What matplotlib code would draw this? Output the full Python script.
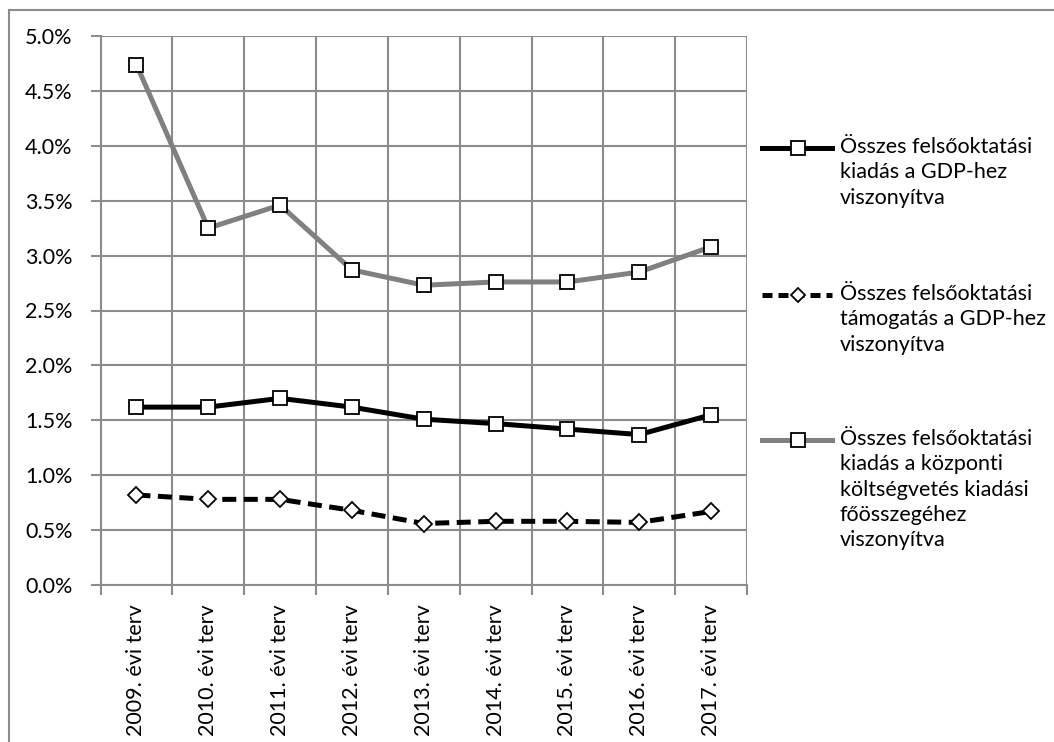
import matplotlib
matplotlib.use("Agg")
import matplotlib.pyplot as plt
from matplotlib.lines import Line2D
from matplotlib.ticker import FuncFormatter, MultipleLocator

plt.rcParams['font.family'] = ['Lato', 'DejaVu Sans']

categories = ["2009. évi terv", "2010. évi terv", "2011. évi terv", "2012. évi terv",
              "2013. évi terv", "2014. évi terv", "2015. évi terv", "2016. évi terv",
              "2017. évi terv"]
kiadas_gdp = [1.62, 1.62, 1.70, 1.62, 1.51, 1.47, 1.42, 1.37, 1.55]
tamogatas_gdp = [0.82, 0.78, 0.78, 0.68, 0.56, 0.58, 0.58, 0.57, 0.67]
kiadas_kozponti = [4.74, 3.25, 3.46, 2.87, 2.73, 2.76, 2.76, 2.85, 3.08]
labels = [
    "Összes felsőoktatási\nkiadás a GDP-hez\nviszonyítva",
    "Összes felsőoktatási\ntámogatás a GDP-hez\nviszonyítva",
    "Összes felsőoktatási\nkiadás a központi\nköltségvetés kiadási\nfőösszegéhez\nviszonyítva",
]

W, H = 1054, 742
fig = plt.figure(figsize=(W / 100, H / 100), dpi=100)
ax = fig.add_axes([100.5 / W, 1 - 585 / H, (747 - 100.5) / W, (585 - 36) / H])

grid_c = "#8c8c8c"
FS = 15.5
x = list(range(len(categories)))

styles = [
    dict(data=kiadas_gdp, color="black", ls="-", marker="s", ms=10, dashes=None),
    dict(data=tamogatas_gdp, color="black", ls="--", marker="D", ms=8.5, dashes=(2.8, 1.5)),
    dict(data=kiadas_kozponti, color="#808080", ls="-", marker="s", ms=10, dashes=None),
]
draw_order = [2, 0, 1]
for i in draw_order:
    s = styles[i]
    kw = {}
    if s["dashes"]:
        kw["dashes"] = s["dashes"]
    ax.plot(x, s["data"], color=s["color"], ls=s["ls"], lw=3.6, marker=s["marker"],
            ms=s["ms"], mfc="white", mec="black", mew=1.3, zorder=3 + i,
            solid_capstyle="round", dash_capstyle="butt", **kw)

ax.set_xlim(-0.5, len(categories) - 0.5)
ax.set_ylim(0, 5.0)
ax.yaxis.set_major_locator(MultipleLocator(0.5))
ax.yaxis.set_major_formatter(FuncFormatter(lambda v, p: f"{v:.1f}%"))
ax.set_xticks([i - 0.5 for i in range(len(categories) + 1)])
ax.set_xticklabels([])
ax.set_xticks(x, minor=True)
ax.set_xticklabels(categories, minor=True, rotation=90, fontsize=FS)
ax.tick_params(axis="x", which="minor", length=0, pad=14)
ax.tick_params(axis="x", which="major", length=7, width=1.5, color=grid_c)
ax.tick_params(axis="y", length=7, width=1.5, color=grid_c, labelsize=FS, pad=13)
ax.grid(True, which="major", color=grid_c, lw=1.5)
ax.set_axisbelow(True)
for sp in ax.spines.values():
    sp.set_color(grid_c)
    sp.set_linewidth(1.5)
ax.spines["top"].set_visible(False)
ax.spines["right"].set_visible(False)

# figure border
fig.add_artist(Line2D([9 / W, 9 / W], [0, 1 - 10 / H], transform=fig.transFigure,
                      color=grid_c, lw=1.5))
fig.add_artist(Line2D([9 / W, 1], [1 - 10 / H, 1 - 10 / H], transform=fig.transFigure,
                      color=grid_c, lw=1.5))

# legend drawn manually
leg_y = [148, 295, 440]
for i, (s, lab, yy) in enumerate(zip(styles, labels, leg_y)):
    yf = 1 - yy / H
    kw = {}
    if s["dashes"]:
        kw["dashes"] = (2.0, 1.2)
    fig.add_artist(Line2D([762 / W, 832 / W], [yf, yf], transform=fig.transFigure,
                          color=s["color"], lw=3.6, ls=s["ls"], dash_capstyle="butt", **kw))
    fig.add_artist(Line2D([798 / W], [yf], transform=fig.transFigure, marker=s["marker"],
                          ms=(s["ms"] - 1.5) if s["marker"] == "D" else s["ms"],
                          mfc="white", mec="black", mew=1.3, ls="none"))
    fig.text(840 / W, 1 - (yy - 11) / H, lab, fontsize=FS, va="top", ha="left",
             linespacing=1.33)

fig.savefig("out.png", dpi=100)
